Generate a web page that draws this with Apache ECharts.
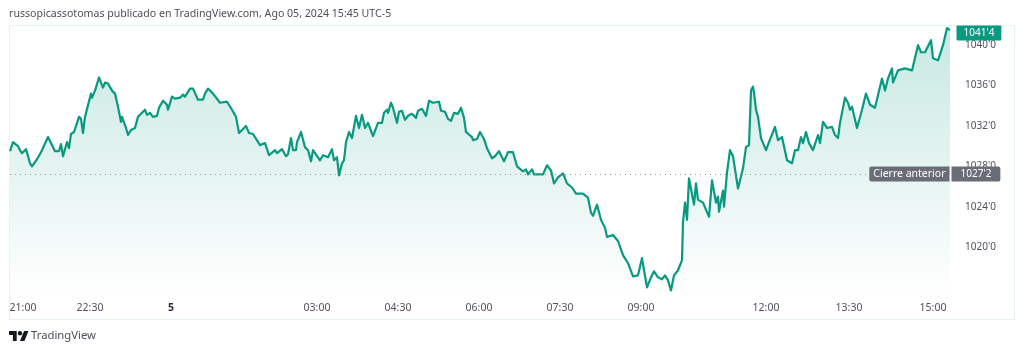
<!DOCTYPE html>
<html><head><meta charset="utf-8">
<style>html,body{margin:0;padding:0;background:#fff}#c{width:1024px;height:352px}</style>
<script src="https://cdn.jsdelivr.net/npm/echarts@6/dist/echarts.min.js"></script>
</head><body><div id="c"></div>
<script>
const titleText = "russopicassotomas publicado en TradingView.com, Ago 05, 2024 15:45 UTC-5";
const bars = [0,3,5,8,10,12,13,16,20,22,27,31,33,38,42,45,49,51,53,55,57,59,61,64,69,71,73,75,77,81,82,85,89,91,93,95,98,102,105,108,111,112,116,118,121,125,128,132,135,137,140,143,147,149,153,157,158,162,165,170,173,175,180,183,188,193,195,198,203,210,217,222,226,229,236,239,243,250,255,259,265,267,272,276,278,281,283,286,287,291,295,298,301,303,310,313,318,322,324,327,329,
332,334,336,339,342,346,349,352,355,358,363,368,372,374,377,378,381,383,387,389,392,395,398,402,406,408,412,416,419,423,429,431,435,438,441,444,448,451,454,456,462,463,467,470,474,477,482,485,489,494,498,503,507,513,516,518,522,524,533,537,541,544,548,553,557,562,566,573,578,581,583,587,591,595,597,603,608,613,618,623,628,632,634,637,641,644,648,652,655,658,661,664,668,
672,673,675,677,679,684,686,688,693,699,702,703,706,708,709,713,714,717,720,723,728,733,736,739,741,743,744,746,748,751,756,759,765,768,772,777,782,785,788,791,793,796,799,803,808,810,813,817,822,825,828,830,835,838,840,842,847,852,856,860,865,872,875,878,882,883,888,895,902,908,911,915,921,923,928,933,937,940];
const prices = [1029.5,1030.4,1030.3,1030.0,1029.6,1029.3,1029.3,1029.7,1028.3,1028.0,1028.7,1029.4,1029.4,1030.9,1030.1,1029.5,1029.5,1030.2,1029.0,1029.1,1030.4,1029.8,1031.2,1031.4,1032.9,1032.7,1031.3,1032.9,1032.8,1035.2,1034.8,1035.5,1036.8,1036.9,1035.8,1036.3,1036.2,1035.5,1035.2,1033.9,1032.4,1032.9,1031.8,1031.1,1031.6,1031.8,1032.9,1033.3,1033.6,1033.1,1033.3,1032.9,1033.0,1033.8,1034.5,1034.1,1033.6,1034.9,1034.7,1034.8,1035.1,1034.9,1035.7,1035.7,1034.6,1034.6,1035.2,1035.7,1035.2,1034.3,1034.4,1033.6,1032.9,1031.3,1032.0,1031.3,1031.2,1030.1,1030.3,1029.1,1029.6,1029.3,1029.7,1029.0,1029.2,1030.8,1029.6,1029.6,1030.4,1031.4,1029.9,1029.6,1028.5,1029.6,1028.6,1029.1,1028.9,1029.7,1028.6,1028.9,1027.1,
1028.3,1028.6,1030.4,1031.4,1030.8,1033.0,1031.8,1033.1,1031.8,1032.3,1031.0,1032.3,1032.3,1033.3,1033.6,1033.3,1034.3,1033.8,1032.3,1033.4,1033.5,1032.6,1033.0,1033.2,1032.8,1033.5,1033.7,1033.0,1034.5,1034.3,1034.4,1033.5,1033.4,1032.7,1032.5,1033.3,1033.2,1033.8,1032.8,1031.4,1030.9,1030.6,1030.7,1031.4,1030.7,1029.8,1028.8,1029.0,1029.5,1028.5,1029.4,1029.4,1028.0,1027.5,1027.7,1027.2,1027.7,1027.2,1027.2,1028.1,1027.6,1026.3,1026.9,1027.3,1026.3,1025.9,1025.3,1025.3,1024.9,1023.4,1023.1,1024.2,1022.7,1021.9,1021.0,1021.2,1020.6,1019.2,1018.4,1017.1,1017.2,1018.9,1017.7,1016.0,1017.0,1017.6,1017.0,1016.8,1017.2,1016.7,1015.7,1017.2,1017.7,
1018.7,1022.5,1024.4,1022.7,1026.8,1024.2,1026.3,1024.7,1024.4,1023.0,1026.6,1026.6,1024.4,1025.0,1023.5,1025.6,1024.0,1027.4,1029.6,1029.0,1025.8,1027.8,1029.9,1030.1,1035.5,1035.9,1035.3,1033.6,1032.9,1030.8,1029.6,1030.4,1031.9,1030.6,1030.9,1028.6,1028.3,1029.6,1029.6,1030.9,1030.3,1031.4,1030.3,1029.6,1031.1,1030.3,1032.4,1031.8,1031.9,1031.1,1030.8,1032.3,1034.8,1034.3,1033.6,1033.9,1031.8,1033.6,1035.2,1034.1,1033.8,1036.7,1035.5,1036.7,1037.7,1036.3,1037.5,1037.7,1037.5,1040.0,1039.3,1039.3,1040.5,1038.7,1038.5,1040.0,1041.7,1041.5];
const timeTicks = [13,80,161,307,388,469,550,631,756,839,923];
const timeLabels = ["21:00","22:30","5","03:00","04:30","06:00","07:30","09:00","12:00","13:30","15:00"];
const priceTicks = [1020,1024,1028,1032,1036,1040];
const priceLabels = ["1020'0","1024'0","1028'0","1032'0","1036'0","1040'0"];
const lastPrice = 1041.5, lastLabel = "1041'4";
const prevClose = 1027.25, prevLabel = "1027'2", prevName = "Cierre anterior";

const font = '"Noto Sans"';
const green = '#089981', grey = '#6a6d78', txt = '#50535e';
const chart = echarts.init(document.getElementById('c'), null, {renderer:'canvas'});
chart.setOption({
  animation:false,
  backgroundColor:'#fff',
  textStyle:{fontFamily:font},
  title:{text:titleText,left:9,top:8,padding:0,textStyle:{fontFamily:font,fontSize:10.6,fontWeight:'normal',color:'#4c4f58'}},
  grid:{left:10,right:74,top:25,bottom:57},
  xAxis:{type:'value',min:0,max:940,splitLine:{show:false},axisLine:{show:false},axisTick:{show:false},
    axisLabel:{customValues:timeTicks,margin:8,fontSize:10.5,color:txt,fontFamily:font,hideOverlap:false,
      formatter:v=>{const s=timeLabels[timeTicks.indexOf(v)];return s==='5'?'{b|5}':s;},
      rich:{b:{fontWeight:'bold',color:'#2a2e39',fontSize:10.5,fontFamily:font}}}},
  yAxis:{type:'value',position:'right',min:1015.25,max:1042,splitLine:{show:false},axisLine:{show:false},axisTick:{show:false},
    axisLabel:{customValues:priceTicks,margin:15,fontSize:10,color:txt,fontFamily:font,align:'left',
      formatter:v=>priceLabels[priceTicks.indexOf(v)]}},
  series:[{
    type:'line',showSymbol:false,symbol:'none',silent:true,
    data:bars.map((b,i)=>[b,prices[i]]),
    lineStyle:{color:green,width:2.2,join:'round'},
    areaStyle:{origin:'start',color:new echarts.graphic.LinearGradient(0,0,0,1,[
      {offset:0,color:'rgba(8,153,129,0.32)'},{offset:1,color:'rgba(8,153,129,0)'}])},
    markLine:{silent:true,symbol:'none',animation:false,label:{show:false},
      lineStyle:{type:[1,4],color:'#8f9a9a',width:1},data:[{yAxis:prevClose}]},
    markPoint:{silent:true,animation:false,symbol:'circle',symbolSize:1,itemStyle:{color:'rgba(0,0,0,0)'},
      data:[
        {coord:[940,prevClose],label:{show:true,position:'left',distance:0,formatter:prevName,
          backgroundColor:grey,color:'#fff',fontSize:10.5,fontFamily:font,height:11,lineHeight:11,padding:[2,4],borderRadius:[2,0,0,2]}},
        {coord:[940,prevClose],label:{show:true,position:'right',distance:1,formatter:prevLabel,
          backgroundColor:grey,color:'#fff',fontSize:10,fontFamily:font,height:11,lineHeight:11,padding:[2,9,2,9],borderRadius:[0,2,2,0]}},
        {coord:[940,lastPrice],label:{show:true,position:'right',distance:6,offset:[0,3],formatter:lastLabel,
          backgroundColor:green,color:'#fff',fontSize:10,fontFamily:font,height:11,lineHeight:11,padding:[2,7,2,7],borderRadius:1}}
      ]}
  }],
  graphic:[
    {type:'rect',z:-1,shape:{x:9.5,y:25.5,width:1005,height:294},style:{fill:'none',stroke:'#e6f3f0',lineWidth:1},silent:true},
    {type:'polygon',shape:{points:[[9,331],[16.7,331],[16.7,341],[12.9,341],[12.9,334.9],[9,334.9]]},style:{fill:'#131722'},silent:true},
    {type:'polygon',shape:{points:[[20,341],[24.1,331],[28.5,331],[24.4,341]]},style:{fill:'#131722'},silent:true},
    {type:'circle',shape:{cx:20,cy:333.2,r:2.2},style:{fill:'#131722'},silent:true},
    {type:'text',left:31,top:330,style:{text:'TradingView',font:'11.3px "Noto Sans"',fill:'#4c4f58'},silent:true}
  ]
});
</script></body></html>
